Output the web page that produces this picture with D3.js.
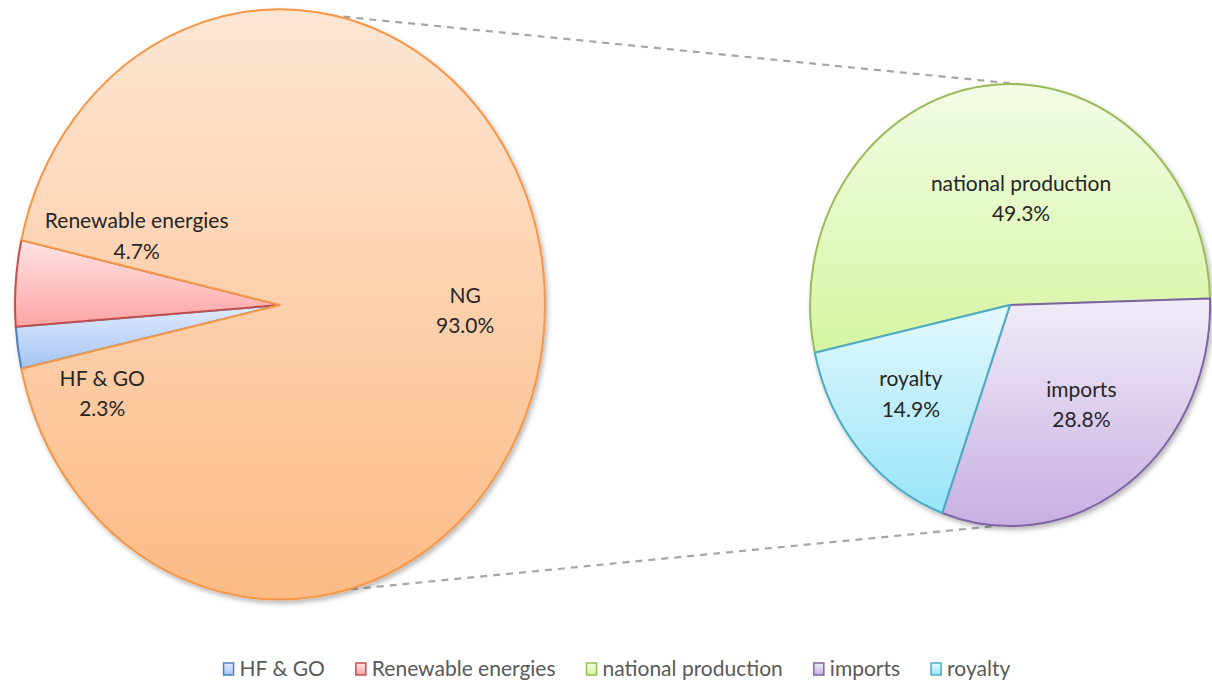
<!DOCTYPE html>
<html>
<head>
<meta charset="utf-8">
<script src="https://cdn.jsdelivr.net/npm/d3@7"></script>
<style>
  html, body { margin: 0; padding: 0; background: #ffffff; }
  svg { display: block; }
  text { font-family: Lato, "Open Sans", "Liberation Sans", sans-serif; }
</style>
</head>
<body>
<svg id="chart" width="1212" height="682"></svg>
<script>
// Primary pie: energy sources
const primaryCategories = ["HF & GO", "Renewable energies", "NG"];
const primaryValues = [2.3, 4.7, 93.0];

// Secondary pie: breakdown of NG supply
const secondaryCategories = ["national production", "imports", "royalty"];
const secondaryValues = [49.3, 28.8, 14.9];

// Legend entries (NG is shown through the secondary pie)
const legendCategories = ["HF & GO", "Renewable energies", "national production", "imports", "royalty"];

const W = 1212, H = 682;
const svg = d3.select("#chart");
const defs = svg.append("defs");

const deg = Math.PI / 180;
const fontSize = 21;

// Office-style palette: border colour plus a light-to-dark vertical gradient
const palette = {
  "HF & GO":             { stroke: "#4f81bd", top: "#e1ebfc", bottom: "#a5c4f4" },
  "Renewable energies":  { stroke: "#c0504d", top: "#ffe4e4", bottom: "#ffa4a4" },
  "NG":                  { stroke: "#f79646", top: "#fde6d4", bottom: "#fcbb85" },
  "national production": { stroke: "#9bbb59", top: "#f3fce6", bottom: "#d5f5a2" },
  "imports":             { stroke: "#8064a2", top: "#f1ecf8", bottom: "#c7b0e2" },
  "royalty":             { stroke: "#4bacc6", top: "#e4f8fd", bottom: "#98e4f8" }
};

const gradId = name => "g-" + name.replace(/[^a-z]/gi, "");
Object.entries(palette).forEach(([name, c]) => {
  const g = defs.append("linearGradient")
    .attr("id", gradId(name))
    .attr("x1", 0).attr("y1", 0).attr("x2", 0).attr("y2", 1);
  g.append("stop").attr("offset", "0%").attr("stop-color", c.top);
  g.append("stop").attr("offset", "100%").attr("stop-color", c.bottom);
});

const shadow = defs.append("filter").attr("id", "shadow")
  .attr("x", "-10%").attr("y", "-10%").attr("width", "125%").attr("height", "125%");
shadow.append("feDropShadow")
  .attr("dx", 2).attr("dy", 3).attr("stdDeviation", 2.5)
  .attr("flood-color", "#000").attr("flood-opacity", 0.28);

// Both pies are drawn on a unit circle and stretched into ellipses
const primaryGeom = { cx: 280, cy: 305, rx: 265, ry: 295 };
const secondaryGeom = { cx: 1010, cy: 305, rx: 200, ry: 221 };

const startAngle = -102.5 * deg;
const pie = d3.pie().sort(null).value(d => d.value)
  .startAngle(startAngle).endAngle(startAngle + 2 * Math.PI);
const arc = d3.arc().innerRadius(0).outerRadius(1);

// point on an ellipse for a d3 angle (clockwise from 12 o'clock)
const onEllipse = (geom, a, r = 1) => [
  geom.cx + geom.rx * r * Math.sin(a),
  geom.cy - geom.ry * r * Math.cos(a)
];

// Dashed connectors between the pies
const connectors = [
  [onEllipse(primaryGeom, 11 * deg), onEllipse(secondaryGeom, 3 * deg)],
  [onEllipse(primaryGeom, 164.5 * deg), onEllipse(secondaryGeom, 183 * deg)]
];
svg.append("g").selectAll("line").data(connectors).join("line")
  .attr("x1", d => d[0][0]).attr("y1", d => d[0][1])
  .attr("x2", d => d[1][0]).attr("y2", d => d[1][1])
  .attr("stroke", "#a6a6a6").attr("stroke-width", 2.2)
  .attr("stroke-dasharray", "7,6");

function drawPie(geom, categories, values, labelPlacement) {
  const data = categories.map((c, i) => ({ name: c, value: values[i] }));
  const total = d3.sum(primaryValues);
  const arcs = pie(data);

  const outer = svg.append("g")
    .attr("transform", `translate(${geom.cx},${geom.cy})`)
    .attr("filter", "url(#shadow)");
  const inner = outer.append("g")
    .attr("transform", `scale(${geom.rx},${geom.ry})`);

  inner.selectAll("path").data(arcs).join("path")
    .attr("d", arc)
    .attr("fill", d => `url(#${gradId(d.data.name)})`)
    .attr("stroke", d => palette[d.data.name].stroke)
    .attr("stroke-width", 2)
    .attr("stroke-linejoin", "round")
    .attr("vector-effect", "non-scaling-stroke");

  // Data labels: category name with its share, two lines around the anchor
  const labels = svg.append("g");
  arcs.forEach(d => {
    const p = labelPlacement[d.data.name];
    const [x, y] = onEllipse(geom, p.angle * deg, p.r);
    const t = labels.append("text")
      .attr("x", x).attr("y", y)
      .attr("text-anchor", "middle")
      .attr("fill", "#262626")
      .attr("font-size", fontSize);
    t.append("tspan").attr("x", x).attr("dy", -15).text(d.data.name);
    t.append("tspan").attr("x", x).attr("dy", 30.5)
      .text((d.data.value / total * 100).toFixed(1) + "%");
  });
}

// Best-fit label anchors (radius fraction, angle in degrees)
drawPie(primaryGeom, primaryCategories, primaryValues, {
  "HF & GO": { r: 0.745, angle: 244.2 },
  "Renewable energies": { r: 0.58, angle: 291.2 },
  "NG": { r: 0.70, angle: 93.6 }
});
drawPie(secondaryGeom, secondaryCategories, secondaryValues, {
  "national production": { r: 0.453, angle: 7 },
  "imports": { r: 0.60, angle: 143.5 },
  "royalty": { r: 0.66, angle: 228.7 }
});

// Legend
const legend = svg.append("g").attr("transform", "translate(0,669)");
const items = legend.selectAll("g").data(legendCategories).join("g");
items.append("rect")
  .attr("width", 10).attr("height", 12).attr("y", -6)
  .attr("fill", d => `url(#${gradId(d)})`)
  .attr("stroke", d => palette[d].stroke).attr("stroke-width", 1.5);
items.append("text")
  .attr("x", 16).attr("dy", "0.35em")
  .attr("fill", "#595959").attr("font-size", fontSize)
  .text(d => d);
const widths = [];
items.each(function () { widths.push(this.getBBox().width); });
const gap = 31;
const totalW = d3.sum(widths) + gap * (widths.length - 1);
let x0 = 617 - totalW / 2;
items.attr("transform", (d, i) => {
  const x = x0;
  x0 += widths[i] + gap;
  return `translate(${x},0)`;
});
</script>
</body>
</html>
